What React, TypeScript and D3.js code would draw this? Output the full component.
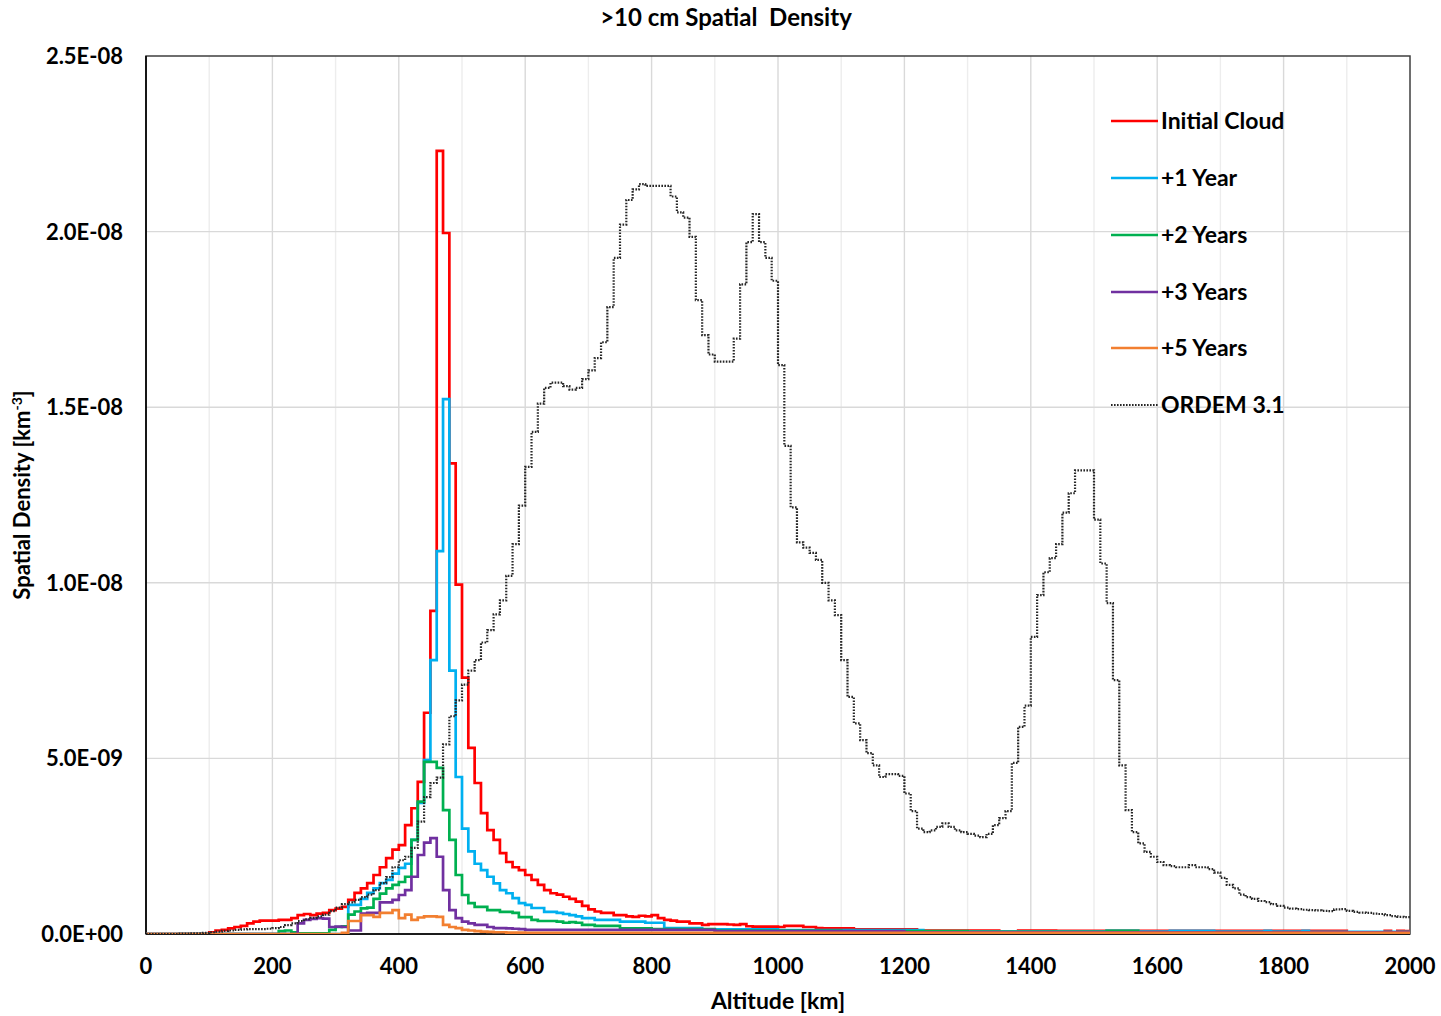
import React from "react";
import * as d3 from "d3";

// Spatial density histograms, 10 km altitude bins starting at 0 km.
// Values are in units of 1e-9 objects per km^3.
const BIN_KM = 10;
const DENSITY_UNIT = 1e-9;

const initialCloud = [
  // 0 km
  0, 0, 0, 0, 0, 0, 0, 0, 0, 0,
  // 100 km
  0.05, 0.1, 0.12, 0.16, 0.2, 0.23, 0.3, 0.35, 0.38, 0.38,
  // 200 km
  0.38, 0.4, 0.4, 0.45, 0.54, 0.57, 0.54, 0.58, 0.6, 0.68,
  // 300 km
  0.72, 0.77, 0.97, 1.17, 1.3, 1.45, 1.68, 1.9, 2.16, 2.4,
  // 400 km
  2.53, 3.1, 3.58, 4.33, 6.3, 9.2, 22.3, 19.96, 13.4, 9.95,
  // 500 km
  7.3, 5.3, 4.3, 3.44, 2.96, 2.68, 2.3, 2.05, 1.9, 1.82,
  // 600 km
  1.68, 1.54, 1.4, 1.25, 1.16, 1.12, 1.06, 1.0, 0.92, 0.8,
  // 700 km
  0.7, 0.64, 0.6, 0.6, 0.54, 0.54, 0.5, 0.49, 0.52, 0.5,
  // 800 km
  0.54, 0.45, 0.4, 0.38, 0.35, 0.35, 0.3, 0.3, 0.26, 0.28,
  // 900 km
  0.28, 0.28, 0.27, 0.26, 0.28, 0.22, 0.21, 0.21, 0.21, 0.21,
  // 1000 km
  0.2, 0.23, 0.23, 0.23, 0.2, 0.2, 0.17, 0.16, 0.16, 0.16,
  // 1100 km
  0.16, 0.16, 0.13, 0.13, 0.13, 0.13, 0.13, 0.13, 0.13, 0.13,
  // 1200 km
  0.13, 0.13, 0.1, 0.1, 0.1, 0.1, 0.1, 0.1, 0.1, 0.1,
  // 1300 km
  0.1, 0.1, 0.1, 0.1, 0.1, 0.07, 0.07, 0.07, 0.1, 0.1,
  // 1400 km
  0.1, 0.1, 0.1, 0.1, 0.09, 0.09, 0.09, 0.09, 0.09, 0.09,
  // 1500 km
  0.09, 0.09, 0.09, 0.09, 0.09, 0.09, 0.09, 0.09, 0.09, 0.09,
  // 1600 km
  0.09, 0.09, 0.09, 0.09, 0.09, 0.09, 0.09, 0.09, 0.09, 0.09,
  // 1700 km
  0.09, 0.09, 0.09, 0.09, 0.09, 0.09, 0.09, 0.09, 0.09, 0.09,
  // 1800 km
  0.09, 0.09, 0.09, 0.09, 0.09, 0.09, 0.09, 0.09, 0.09, 0.09,
  // 1900 km
  0.03, 0.03, 0.03, 0.03, 0.03, 0.03, 0.09, 0.04, 0.09, 0.08,
];

const plusOneYear = [
  // 0 km
  0, 0, 0, 0, 0, 0, 0, 0, 0, 0,
  // 100 km
  0, 0, 0, 0, 0, 0, 0, 0, 0, 0,
  // 200 km
  0, 0, 0, 0, 0, 0, 0, 0, 0, 0,
  // 300 km
  0, 0, 0.83, 0.83, 1.0, 1.17, 1.3, 1.45, 1.54, 1.72,
  // 400 km
  1.88, 2.0, 2.68, 3.73, 4.95, 7.8, 10.9, 15.23, 7.5, 4.47,
  // 500 km
  3.0, 2.35, 2.0, 1.82, 1.63, 1.44, 1.25, 1.16, 1.02, 0.88,
  // 600 km
  0.83, 0.74, 0.74, 0.63, 0.63, 0.6, 0.57, 0.54, 0.5, 0.45,
  // 700 km
  0.45, 0.4, 0.4, 0.4, 0.4, 0.35, 0.35, 0.35, 0.35, 0.32,
  // 800 km
  0.32, 0.32, 0.17, 0.17, 0.17, 0.17, 0.17, 0.17, 0.13, 0.13,
  // 900 km
  0.13, 0.13, 0.13, 0.13, 0.13, 0.13, 0.13, 0.13, 0.13, 0.13,
  // 1000 km
  0.11, 0.11, 0.11, 0.11, 0.11, 0.11, 0.11, 0.11, 0.11, 0.11,
  // 1100 km
  0.11, 0.11, 0.11, 0.11, 0.11, 0.11, 0.11, 0.11, 0.11, 0.11,
  // 1200 km
  0.11, 0.11, 0.11, 0.07, 0.07, 0.07, 0.07, 0.07, 0.07, 0.07,
  // 1300 km
  0.07, 0.07, 0.07, 0.07, 0.07, 0.07, 0.07, 0.07, 0.07, 0.07,
  // 1400 km
  0.07, 0.07, 0.07, 0.07, 0.07, 0.07, 0.07, 0.07, 0.07, 0.07,
  // 1500 km
  0.07, 0.07, 0.09, 0.09, 0.09, 0.09, 0.09, 0.07, 0.07, 0.07,
  // 1600 km
  0.07, 0.07, 0.09, 0.09, 0.09, 0.09, 0.09, 0.09, 0.09, 0.07,
  // 1700 km
  0.07, 0.07, 0.07, 0.07, 0.07, 0.07, 0.07, 0.09, 0.07, 0.07,
  // 1800 km
  0.07, 0.07, 0.07, 0.09, 0.06, 0.06, 0.06, 0.06, 0.06, 0.06,
  // 1900 km
  0.06, 0.06, 0.06, 0.06, 0.06, 0.06, 0.06, 0.06, 0.06, 0.06,
];

const plusTwoYears = [
  // 0 km
  0, 0, 0, 0, 0, 0, 0, 0, 0, 0,
  // 100 km
  0, 0, 0, 0, 0, 0, 0, 0, 0, 0,
  // 200 km
  0, 0.08, 0.1, 0.05, 0.02, 0.02, 0.02, 0.02, 0.02, 0.12,
  // 300 km
  0.2, 0.22, 0.55, 0.64, 0.73, 0.75, 1.0, 1.15, 1.3, 1.4,
  // 400 km
  1.48, 1.63, 2.68, 3.77, 4.9, 4.9, 4.73, 3.53, 2.68, 1.68,
  // 500 km
  1.11, 0.88, 0.77, 0.77, 0.68, 0.68, 0.63, 0.63, 0.6, 0.48,
  // 600 km
  0.48, 0.4, 0.37, 0.37, 0.37, 0.35, 0.32, 0.34, 0.32, 0.26,
  // 700 km
  0.26, 0.23, 0.23, 0.23, 0.23, 0.16, 0.16, 0.16, 0.16, 0.16,
  // 800 km
  0.14, 0.14, 0.14, 0.14, 0.14, 0.14, 0.14, 0.14, 0.14, 0.14,
  // 900 km
  0.1, 0.1, 0.1, 0.1, 0.1, 0.1, 0.1, 0.1, 0.1, 0.1,
  // 1000 km
  0.1, 0.1, 0.1, 0.1, 0.1, 0.1, 0.1, 0.1, 0.1, 0.1,
  // 1100 km
  0.08, 0.08, 0.08, 0.08, 0.08, 0.08, 0.08, 0.08, 0.08, 0.08,
  // 1200 km
  0.08, 0.08, 0.08, 0.08, 0.08, 0.08, 0.08, 0.08, 0.08, 0.08,
  // 1300 km
  0.06, 0.06, 0.06, 0.06, 0.06, 0.06, 0.06, 0.06, 0.06, 0.06,
  // 1400 km
  0.06, 0.06, 0.06, 0.06, 0.06, 0.06, 0.06, 0.06, 0.06, 0.06,
  // 1500 km
  0.06, 0.06, 0.09, 0.09, 0.09, 0.09, 0.09, 0.05, 0.05, 0.05,
  // 1600 km
  0.05, 0.05, 0.05, 0.05, 0.05, 0.05, 0.05, 0.05, 0.05, 0.05,
  // 1700 km
  0.05, 0.05, 0.05, 0.05, 0.05, 0.05, 0.05, 0.05, 0.05, 0.05,
  // 1800 km
  0.05, 0.05, 0.05, 0.05, 0.05, 0.05, 0.05, 0.05, 0.05, 0.05,
  // 1900 km
  0.05, 0.05, 0.05, 0.05, 0.05, 0.05, 0.05, 0.05, 0.05, 0.05,
];

const plusThreeYears = [
  // 0 km
  0, 0, 0, 0, 0, 0, 0, 0, 0, 0,
  // 100 km
  0, 0, 0, 0, 0, 0, 0, 0, 0, 0,
  // 200 km
  0, 0, 0, 0, 0.3, 0.4, 0.43, 0.45, 0.44, 0.2,
  // 300 km
  0.21, 0.2, 0.1, 0.1, 0.58, 0.6, 0.6, 0.9, 0.9, 0.97,
  // 400 km
  1.11, 1.25, 1.63, 2.25, 2.6, 2.73, 2.2, 1.25, 0.68, 0.45,
  // 500 km
  0.35, 0.3, 0.26, 0.26, 0.2, 0.17, 0.17, 0.16, 0.15, 0.14,
  // 600 km
  0.12, 0.12, 0.12, 0.12, 0.12, 0.12, 0.12, 0.12, 0.12, 0.12,
  // 700 km
  0.12, 0.12, 0.12, 0.12, 0.12, 0.12, 0.12, 0.12, 0.12, 0.12,
  // 800 km
  0.12, 0.12, 0.12, 0.12, 0.12, 0.12, 0.12, 0.12, 0.12, 0.12,
  // 900 km
  0.08, 0.08, 0.08, 0.08, 0.08, 0.08, 0.08, 0.08, 0.08, 0.08,
  // 1000 km
  0.08, 0.08, 0.08, 0.08, 0.08, 0.08, 0.08, 0.08, 0.08, 0.08,
  // 1100 km
  0.08, 0.08, 0.08, 0.08, 0.08, 0.08, 0.08, 0.08, 0.08, 0.08,
  // 1200 km
  0.05, 0.05, 0.05, 0.05, 0.05, 0.05, 0.05, 0.05, 0.05, 0.05,
  // 1300 km
  0.05, 0.05, 0.05, 0.05, 0.05, 0.05, 0.05, 0.05, 0.05, 0.05,
  // 1400 km
  0.05, 0.05, 0.05, 0.05, 0.05, 0.05, 0.05, 0.05, 0.05, 0.05,
  // 1500 km
  0.05, 0.05, 0.05, 0.05, 0.05, 0.05, 0.05, 0.05, 0.05, 0.05,
  // 1600 km
  0.05, 0.05, 0.05, 0.05, 0.05, 0.05, 0.05, 0.05, 0.05, 0.05,
  // 1700 km
  0.05, 0.05, 0.05, 0.05, 0.05, 0.05, 0.05, 0.05, 0.05, 0.05,
  // 1800 km
  0.05, 0.05, 0.05, 0.05, 0.05, 0.05, 0.05, 0.05, 0.05, 0.05,
  // 1900 km
  0.05, 0.05, 0.05, 0.05, 0.05, 0.05, 0.05, 0.05, 0.05, 0.05,
];

const plusFiveYears = [
  // 0 km
  0, 0, 0, 0, 0, 0, 0, 0, 0, 0,
  // 100 km
  0, 0, 0, 0, 0, 0, 0, 0, 0, 0,
  // 200 km
  0, 0, 0, 0, 0, 0, 0, 0, 0, 0,
  // 300 km
  0, 0.03, 0.37, 0.37, 0.54, 0.54, 0.49, 0.6, 0.6, 0.68,
  // 400 km
  0.45, 0.55, 0.4, 0.47, 0.5, 0.5, 0.49, 0.26, 0.2, 0.17,
  // 500 km
  0.12, 0.1, 0.08, 0.07, 0.06, 0.05, 0.05, 0.04, 0.04, 0.04,
  // 600 km
  0.03, 0.03, 0.03, 0.03, 0.03, 0.03, 0.03, 0.03, 0.03, 0.03,
  // 700 km
  0.03, 0.03, 0.03, 0.03, 0.03, 0.03, 0.03, 0.03, 0.03, 0.03,
  // 800 km
  0.03, 0.03, 0.03, 0.03, 0.03, 0.03, 0.03, 0.03, 0.03, 0.03,
  // 900 km
  0.03, 0.03, 0.03, 0.03, 0.03, 0.03, 0.03, 0.03, 0.03, 0.03,
  // 1000 km
  0.03, 0.03, 0.03, 0.03, 0.03, 0.03, 0.03, 0.03, 0.03, 0.03,
  // 1100 km
  0.03, 0.03, 0.03, 0.03, 0.03, 0.03, 0.03, 0.03, 0.03, 0.03,
  // 1200 km
  0.03, 0.03, 0.03, 0.03, 0.03, 0.03, 0.03, 0.03, 0.03, 0.03,
  // 1300 km
  0.03, 0.03, 0.03, 0.03, 0.03, 0.03, 0.03, 0.03, 0.03, 0.03,
  // 1400 km
  0.03, 0.03, 0.03, 0.03, 0.03, 0.03, 0.03, 0.03, 0.03, 0.03,
  // 1500 km
  0.03, 0.03, 0.03, 0.03, 0.03, 0.03, 0.03, 0.03, 0.03, 0.03,
  // 1600 km
  0.03, 0.03, 0.03, 0.03, 0.03, 0.03, 0.03, 0.03, 0.03, 0.03,
  // 1700 km
  0.03, 0.03, 0.03, 0.03, 0.03, 0.03, 0.03, 0.03, 0.03, 0.03,
  // 1800 km
  0.03, 0.03, 0.03, 0.03, 0.03, 0.03, 0.03, 0.03, 0.03, 0.03,
  // 1900 km
  0.03, 0.03, 0.03, 0.03, 0.03, 0.03, 0.03, 0.03, 0.03, 0.03,
];

const ordem31 = [
  // 0 km
  0, 0, 0, 0, 0, 0.01, 0.01, 0.02, 0.02, 0.03,
  // 100 km
  0.05, 0.07, 0.09, 0.1, 0.12, 0.13, 0.14, 0.14, 0.14, 0.15,
  // 200 km
  0.17, 0.2, 0.25, 0.3, 0.37, 0.42, 0.46, 0.5, 0.55, 0.65,
  // 300 km
  0.75, 0.85, 0.9, 0.97, 1.05, 1.12, 1.25, 1.45, 1.62, 1.9,
  // 400 km
  2.1, 2.2, 2.45, 3.2, 3.9, 4.3, 4.45, 5.4, 6.2, 6.65,
  // 500 km
  7.1, 7.5, 7.8, 8.3, 8.65, 9.1, 9.5, 10.2, 11.1, 12.2,
  // 600 km
  13.3, 14.3, 15.1, 15.55, 15.7, 15.7, 15.6, 15.5, 15.55, 15.8,
  // 700 km
  16.05, 16.4, 16.85, 17.85, 19.25, 20.2, 20.9, 21.2, 21.35, 21.3,
  // 800 km
  21.3, 21.3, 21.3, 21.0, 20.55, 20.4, 19.85, 18.05, 17.05, 16.5,
  // 900 km
  16.3, 16.3, 16.3, 16.95, 18.5, 19.7, 20.5, 19.7, 19.25, 18.6,
  // 1000 km
  16.2, 13.9, 12.15, 11.15, 11.0, 10.85, 10.65, 10.0, 9.5, 9.08,
  // 1100 km
  7.8, 6.75, 6.0, 5.52, 5.15, 4.8, 4.47, 4.55, 4.55, 4.5,
  // 1200 km
  4.0, 3.5, 3.0, 2.9, 2.95, 3.05, 3.15, 3.05, 2.95, 2.9,
  // 1300 km
  2.85, 2.8, 2.76, 2.85, 3.1, 3.3, 3.5, 4.87, 5.9, 6.5,
  // 1400 km
  8.46, 9.65, 10.3, 10.7, 11.1, 12.0, 12.55, 13.2, 13.2, 13.2,
  // 1500 km
  11.8, 10.55, 9.42, 7.23, 4.8, 3.53, 2.9, 2.58, 2.34, 2.2,
  // 1600 km
  2.05, 1.96, 1.93, 1.9, 1.9, 1.96, 1.9, 1.9, 1.85, 1.75,
  // 1700 km
  1.6, 1.4, 1.3, 1.12, 1.05, 1.0, 0.94, 0.91, 0.85, 0.8,
  // 1800 km
  0.75, 0.72, 0.71, 0.69, 0.68, 0.67, 0.66, 0.65, 0.7, 0.71,
  // 1900 km
  0.66, 0.63, 0.61, 0.6, 0.58, 0.57, 0.54, 0.51, 0.49, 0.48,
];

const seriesNames = ["Initial Cloud", "+1 Year", "+2 Years", "+3 Years", "+5 Years", "ORDEM 3.1"];
const seriesValues = [initialCloud, plusOneYear, plusTwoYears, plusThreeYears, plusFiveYears, ordem31];
const seriesColors = ["#FF0000", "#00B0F0", "#00B050", "#7030A0", "#F27F30", "#262626"];

const xTickValues = [0, 200, 400, 600, 800, 1000, 1200, 1400, 1600, 1800, 2000];
const xGridValues = [100, 200, 300, 400, 500, 600, 700, 800, 900, 1000, 1100, 1200, 1300, 1400, 1500, 1600, 1700, 1800, 1900];
const yTickValues = [0, 5e-9, 1e-8, 1.5e-8, 2e-8, 2.5e-8];

const FONT = "Lato, 'Open Sans', 'DejaVu Sans', sans-serif";

// Excel-style scientific label, e.g. 2.5E-08
function sciLabel(v: number): string {
  if (v === 0) return "0.0E+00";
  let e = Math.floor(Math.log10(v) + 1e-9);
  const m = v / Math.pow(10, e);
  const sign = e < 0 ? "-" : "+";
  e = Math.abs(e);
  return `${m.toFixed(1)}E${sign}${String(e).padStart(2, "0")}`;
}

export default function App() {
  const width = 1441;
  const height = 1016;
  const plot = { left: 146, right: 1410, top: 56, bottom: 934 };

  const x = d3.scaleLinear().domain([0, 2000]).range([plot.left, plot.right]);
  const y = d3.scaleLinear().domain([0, 2.5e-8]).range([plot.bottom, plot.top]);

  const line = d3
    .line<[number, number]>()
    .x((d) => x(d[0]))
    .y((d) => y(d[1] * DENSITY_UNIT))
    .curve(d3.curveStepAfter);

  const pathFor = (vals: number[]) => {
    const pts: [number, number][] = vals.map((v, i) => [i * BIN_KM, v]);
    pts.push([vals.length * BIN_KM, vals[vals.length - 1]]);
    return line(pts) || "";
  };

  const legendY = [121, 178, 235, 292, 348, 405];

  return (
    <svg
      width={width}
      height={height}
      viewBox={`0 0 ${width} ${height}`}
      style={{ position: "absolute", left: 0, top: 0, background: "#fff" }}
      fontFamily={FONT}
    >
      <rect x={0} y={0} width={width} height={height} fill="#fff" />
      <defs>
        <clipPath id="plotClip">
          <rect x={plot.left} y={plot.top - 2} width={plot.right - plot.left} height={plot.bottom - plot.top + 2} />
        </clipPath>
      </defs>

      {/* gridlines */}
      {xGridValues.map((v) => (
        <line
          key={`gx${v}`}
          x1={x(v)}
          x2={x(v)}
          y1={plot.top}
          y2={plot.bottom}
          stroke={v % 200 === 0 ? "#D9D9D9" : "#EDEDED"}
          strokeWidth={1.4}
        />
      ))}
      {yTickValues.slice(1, -1).map((v) => (
        <line key={`gy${v}`} x1={plot.left} x2={plot.right} y1={y(v)} y2={y(v)} stroke="#D9D9D9" strokeWidth={1.4} />
      ))}

      {/* plot frame */}
      <rect
        x={plot.left}
        y={plot.top}
        width={plot.right - plot.left}
        height={plot.bottom - plot.top}
        fill="none"
        stroke="#3F3F3F"
        strokeWidth={1.5}
      />
      <line x1={plot.left} x2={plot.left} y1={plot.top} y2={plot.bottom} stroke="#000" strokeWidth={1.6} />
      <line x1={plot.left} x2={plot.right} y1={plot.bottom} y2={plot.bottom} stroke="#000" strokeWidth={1.6} />

      {/* series */}
      <g clipPath="url(#plotClip)">
        {seriesValues.map((vals, i) => {
          const isModel = i === seriesValues.length - 1;
          return (
            <path
              key={seriesNames[i]}
              d={pathFor(vals)}
              fill="none"
              stroke={seriesColors[i]}
              strokeWidth={isModel ? 2.2 : 2.7}
              strokeDasharray={isModel ? "1.6 1.4" : undefined}
              strokeLinejoin="miter"
            />
          );
        })}
      </g>

      {/* y axis labels */}
      {yTickValues.map((v) => (
        <text
          key={`yl${v}`}
          x={123}
          y={y(v)}
          dy="0.36em"
          textAnchor="end"
          fontSize={22}
          fontWeight="bold"
          fill="#000"
        >
          {sciLabel(v)}
        </text>
      ))}

      {/* x axis labels */}
      {xTickValues.map((v) => (
        <text key={`xl${v}`} x={x(v)} y={974} textAnchor="middle" fontSize={22} fontWeight="bold" fill="#000">
          {v}
        </text>
      ))}

      {/* titles */}
      <text x={726} y={26} textAnchor="middle" fontSize={24} fontWeight="bold" fill="#000" style={{ whiteSpace: "pre" }}>
        {">10 cm Spatial  Density"}
      </text>
      <text x={778} y={1009} textAnchor="middle" fontSize={23} fontWeight="bold" fill="#000">
        Altitude [km]
      </text>
      <text
        transform="translate(30,495) rotate(-90)"
        textAnchor="middle"
        fontSize={22}
        fontWeight="bold"
        fill="#000"
      >
        Spatial Density [km
        <tspan fontSize={14} dy={-8}>-3</tspan>
        <tspan dy={8}>]</tspan>
      </text>

      {/* legend */}
      {seriesNames.map((name, i) => {
        const isModel = i === seriesNames.length - 1;
        const ly = legendY[i];
        return (
          <g key={`lg${name}`}>
            <line
              x1={1111}
              x2={1158}
              y1={ly}
              y2={ly}
              stroke={seriesColors[i]}
              strokeWidth={isModel ? 2.2 : 2.7}
              strokeDasharray={isModel ? "1.6 1.4" : undefined}
            />
            <text x={1161} y={ly} dy="0.36em" fontSize={23} fontWeight="bold" fill="#000">
              {name}
            </text>
          </g>
        );
      })}
    </svg>
  );
}
